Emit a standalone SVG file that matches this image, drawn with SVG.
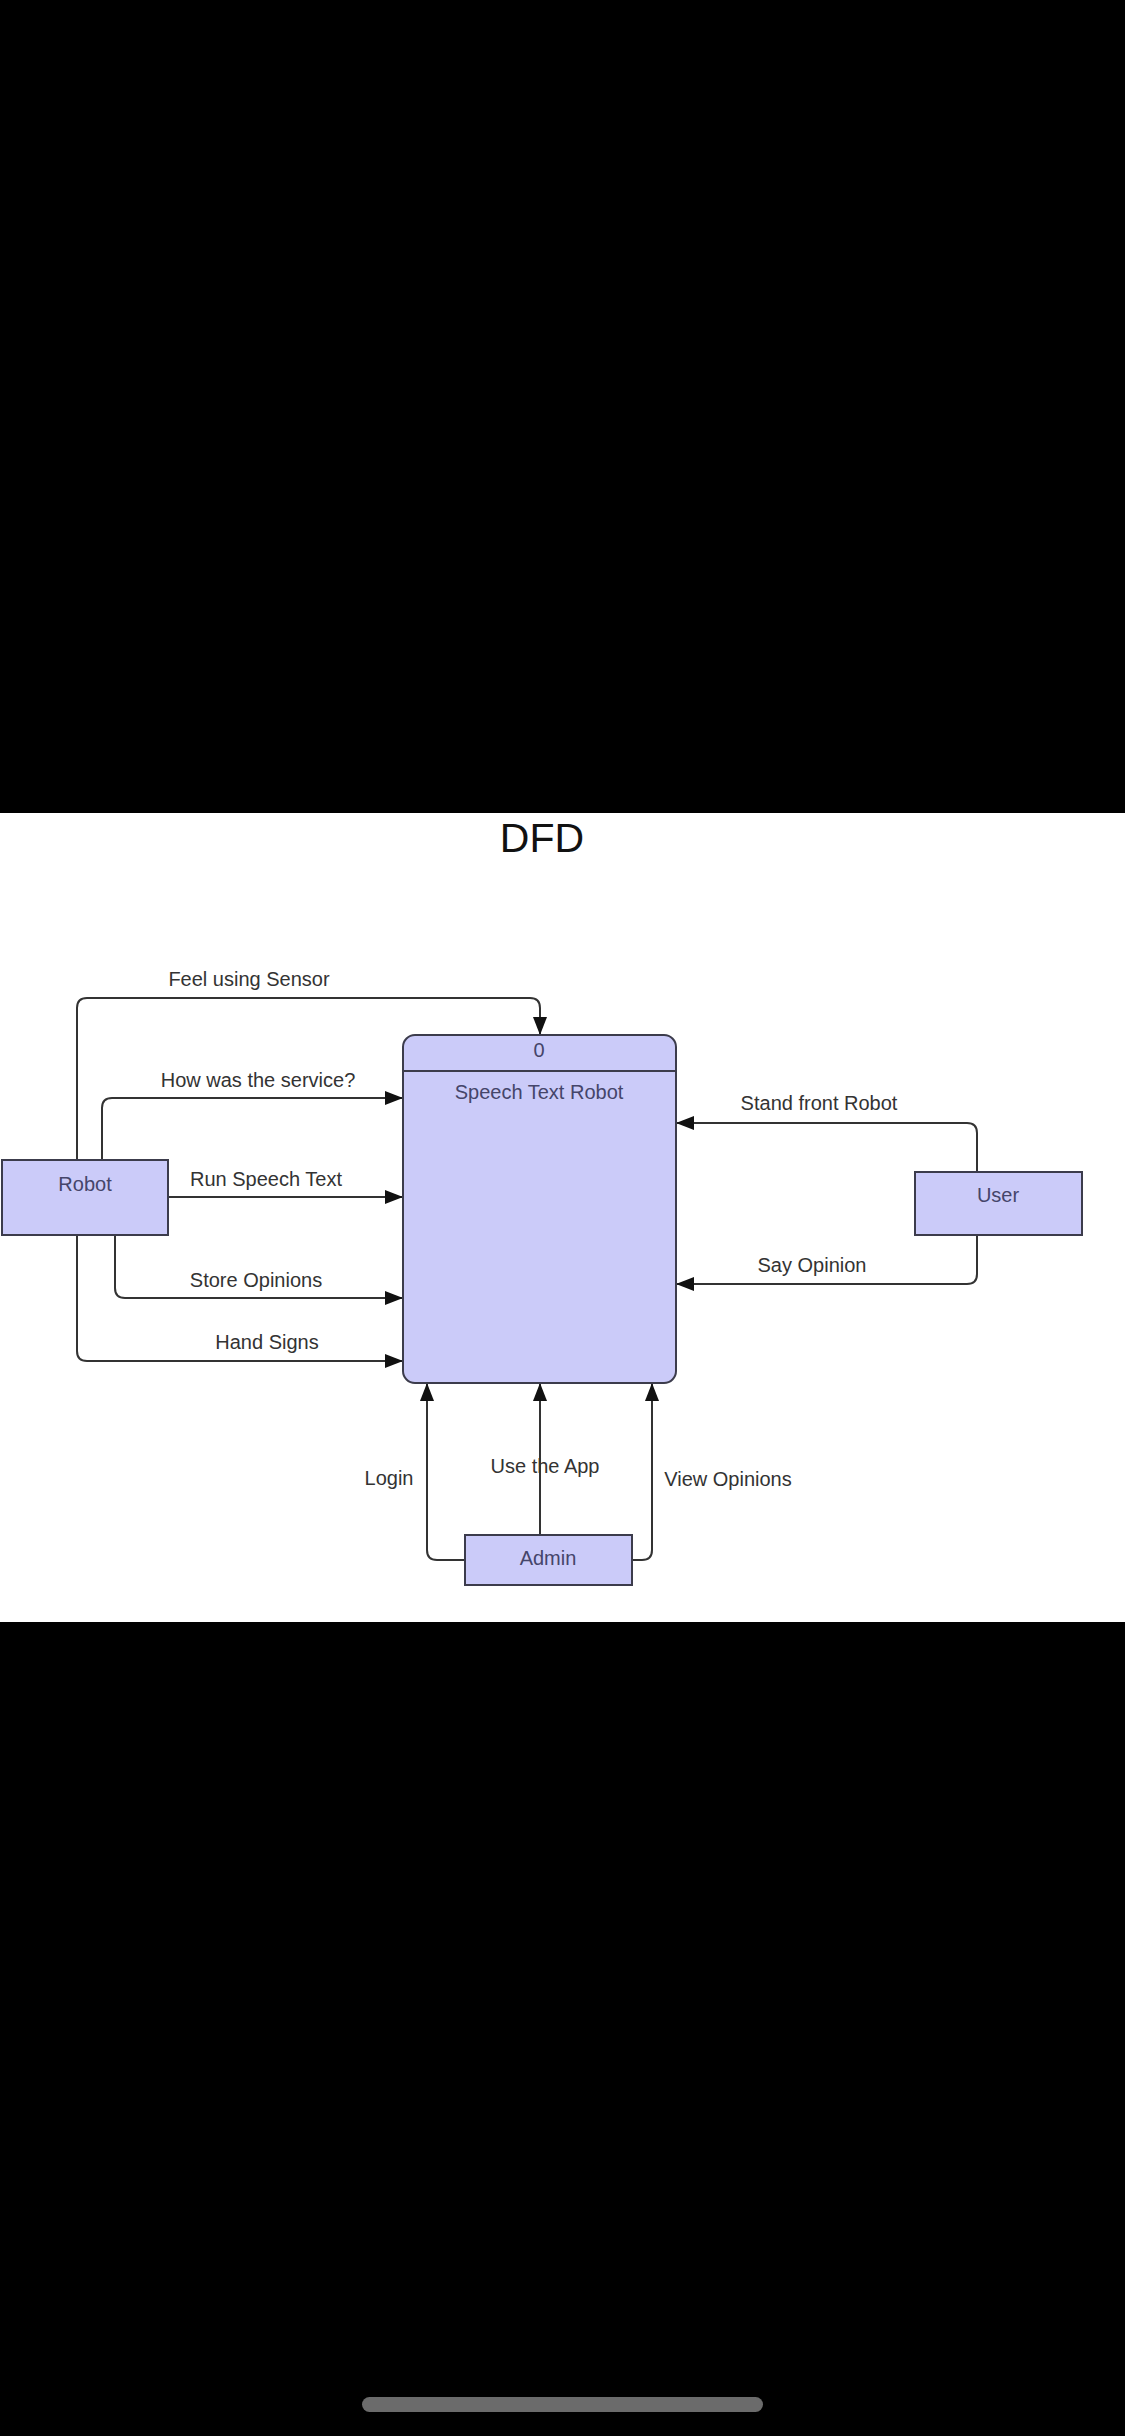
<svg xmlns="http://www.w3.org/2000/svg" width="1125" height="2436" viewBox="0 0 1125 2436">
<style>
.node{fill:#cbcbf9;stroke:#3c3c4c;stroke-width:2}
.ntext{font-family:"Liberation Sans",Arial,sans-serif;font-size:20px;fill:#45456a;text-anchor:middle}
.lbl{font-family:"Liberation Sans",Arial,sans-serif;font-size:20px;fill:#333;text-anchor:middle}
.flow{fill:none;stroke:#333;stroke-width:2}
</style>
<defs>
<marker id="arr" markerUnits="userSpaceOnUse" markerWidth="18" markerHeight="14" refX="18" refY="7" orient="auto">
<path d="M0,0 L18,7 L0,14 z" fill="#111"/>
</marker>
</defs>
<rect x="0" y="0" width="1125" height="2436" fill="#000"/>
<rect x="0" y="813" width="1125" height="809" fill="#fff"/>
<rect x="362" y="2397" width="401" height="15" rx="7.5" fill="#6b6b6b"/>
<text x="542" y="852" font-family="Liberation Sans, Arial, sans-serif" font-size="41" fill="#111" text-anchor="middle">DFD</text>

<g id="connectors">
<path class="flow" marker-end="url(#arr)" d="M77,1160 V1008 Q77,998 87,998 H530 Q540,998 540,1008 V1035"/>
<path class="flow" marker-end="url(#arr)" d="M102,1160 V1108 Q102,1098 112,1098 H403"/>
<path class="flow" marker-end="url(#arr)" d="M168,1197 H403"/>
<path class="flow" marker-end="url(#arr)" d="M115,1235 V1288 Q115,1298 125,1298 H403"/>
<path class="flow" marker-end="url(#arr)" d="M77,1235 V1351 Q77,1361 87,1361 H403"/>
<path class="flow" marker-end="url(#arr)" d="M977,1172 V1133 Q977,1123 967,1123 H676"/>
<path class="flow" marker-end="url(#arr)" d="M977,1235 V1274 Q977,1284 967,1284 H676"/>
<path class="flow" marker-end="url(#arr)" d="M465,1560 H437 Q427,1560 427,1550 V1383"/>
<path class="flow" marker-end="url(#arr)" d="M540,1535 V1383"/>
<path class="flow" marker-end="url(#arr)" d="M632,1560 H642 Q652,1560 652,1550 V1383"/>
<text class="lbl" x="249" y="986">Feel using Sensor</text>
<text class="lbl" x="258" y="1087">How was the service?</text>
<text class="lbl" x="266" y="1186">Run Speech Text</text>
<text class="lbl" x="256" y="1287">Store Opinions</text>
<text class="lbl" x="267" y="1349">Hand Signs</text>
<text class="lbl" x="819" y="1110">Stand front Robot</text>
<text class="lbl" x="812" y="1272">Say Opinion</text>
<text class="lbl" x="389" y="1485">Login</text>
<text class="lbl" x="545" y="1473">Use the App</text>
<text class="lbl" x="728" y="1486">View Opinions</text>
</g>

<g id="process">
<rect class="node" x="403" y="1035" width="273" height="348" rx="12"/>
<line x1="403" y1="1071" x2="676" y2="1071" stroke="#3c3c4c" stroke-width="2"/>
<text class="ntext" x="539" y="1057">0</text>
<text class="ntext" x="539" y="1099">Speech Text Robot</text>
</g>
<g id="robot">
<rect class="node" x="2" y="1160" width="166" height="75"/>
<text class="ntext" x="85" y="1191">Robot</text>
</g>
<g id="user">
<rect class="node" x="915" y="1172" width="167" height="63"/>
<text class="ntext" x="998" y="1202">User</text>
</g>
<g id="admin">
<rect class="node" x="465" y="1535" width="167" height="50"/>
<text class="ntext" x="548" y="1565">Admin</text>
</g>
</svg>
